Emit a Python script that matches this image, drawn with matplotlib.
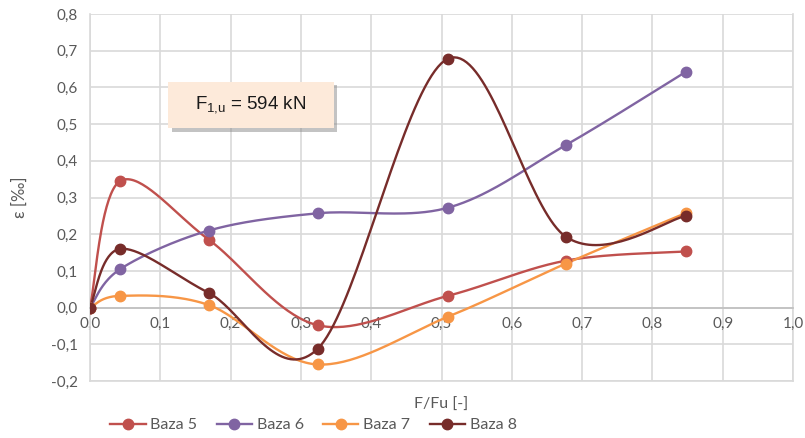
import numpy as np
import matplotlib
matplotlib.use("Agg")
import matplotlib.pyplot as plt
from matplotlib.ticker import FuncFormatter, MultipleLocator
from matplotlib.patches import Rectangle
import matplotlib.patheffects as pe

plt.rcParams['font.family'] = ['Lato', 'DejaVu Sans']

x_vals = [0.0, 0.043, 0.169, 0.324, 0.509, 0.677, 0.848]
series_names = ["Baza 5", "Baza 6", "Baza 7", "Baza 8"]
baza5 = [0.0, 0.345, 0.185, -0.048, 0.032, 0.128, 0.153]
baza6 = [0.0, 0.105, 0.210, 0.257, 0.272, 0.443, 0.643]
baza7 = [0.0, 0.032, 0.007, -0.155, -0.025, 0.120, 0.258]
baza8 = [0.0, 0.160, 0.040, -0.112, 0.678, 0.193, 0.250]
colors = ["#C0504D", "#8064A2", "#F79646", "#772C2A"]

def smooth(xs, ys, n=40):
    P = np.column_stack([xs, ys]).astype(float)
    Pe = np.vstack([P[0], P, P[-1]])
    out = []
    for i in range(len(P) - 1):
        p0, p1, p2, p3 = Pe[i], Pe[i + 1], Pe[i + 2], Pe[i + 3]
        c1 = p1 + (p2 - p0) / 6.0
        c2 = p2 - (p3 - p1) / 6.0
        t = np.linspace(0, 1, n)[:, None]
        seg = ((1 - t) ** 3) * p1 + 3 * ((1 - t) ** 2) * t * c1 + 3 * (1 - t) * t ** 2 * c2 + t ** 3 * p2
        out.append(seg if i == 0 else seg[1:])
    c = np.vstack(out)
    return c[:, 0], c[:, 1]

fig = plt.figure(figsize=(8.05, 4.38), dpi=100)
ax = fig.add_axes([90 / 805, (438 - 381) / 438, 703 / 805, 367 / 438])

for name, ys, col in zip(series_names, [baza5, baza6, baza7, baza8], colors):
    sx, sy = smooth(x_vals, ys)
    ax.plot(sx, sy, color=col, lw=1.7, zorder=3, solid_capstyle='round')
    ax.plot(x_vals, ys, 'o', color=col, ms=7.5, zorder=4)
    ax.plot([], [], '-o', color=col, lw=1.7, ms=7.5, label=name)

ax.set_xlim(0, 1.0)
ax.set_ylim(-0.2, 0.8)
ax.xaxis.set_major_locator(MultipleLocator(0.1))
ax.yaxis.set_major_locator(MultipleLocator(0.1))
fmt = FuncFormatter(lambda v, p: f"{v:.1f}".replace('.', ',').replace('-0,0', '0,0'))
ax.xaxis.set_major_formatter(fmt)
ax.yaxis.set_major_formatter(fmt)
ax.grid(True, color="#D9D9D9", lw=1.2, zorder=0)
ax.set_axisbelow(True)
for s in ['top', 'right']:
    ax.spines[s].set_visible(False)
ax.spines['left'].set_color("#D9D9D9")
ax.spines['left'].set_linewidth(1.2)
ax.spines['bottom'].set_position(('data', 0))
ax.spines['bottom'].set_color("#BFBFBF")
ax.spines['bottom'].set_linewidth(1.2)
ax.plot([0, 1], [-0.2, -0.2], color="#D9D9D9", lw=1.2, zorder=0, clip_on=False)
ax.plot([1, 1], [-0.2, 0.8], color="#D9D9D9", lw=1.2, zorder=0, clip_on=False)
ax.tick_params(length=0, colors="#595959", labelsize=11)
ax.tick_params(axis='x', pad=7)
ax.tick_params(axis='y', pad=9)

ax.set_xlabel("F/Fu [-]", color="#595959", fontsize=11.5, labelpad=0)
ax.xaxis.set_label_coords(0.5, -0.047)
ax.set_ylabel("ε [‰]", color="#595959", fontsize=12)
ax.yaxis.set_label_coords(-0.088, 0.5)

box = Rectangle((0.111, 0.689), 0.236, 0.126, transform=ax.transAxes,
                fc="#FDEADA", ec="none", zorder=6,
                path_effects=[pe.SimplePatchShadow(offset=(2.5, -2.5), shadow_rgbFace="#888888", alpha=0.5), pe.Normal()])
ax.add_patch(box)
ax.text(0.229, 0.752, r"F$_{\mathregular{1{,}u}}$ = 594 kN", transform=ax.transAxes,
        ha='center', va='center', fontsize=13.5, color="#1a1a1a", zorder=7,
        family=['Liberation Sans', 'DejaVu Sans'])

fig.legend(loc='center left', bbox_to_anchor=(104 / 805, 13 / 438), ncol=4, frameon=False,
           fontsize=11.5, labelcolor="#595959", handlelength=2.2, columnspacing=1.22,
           handletextpad=0.3, borderaxespad=0.0)

fig.savefig("out.png", dpi=100)
